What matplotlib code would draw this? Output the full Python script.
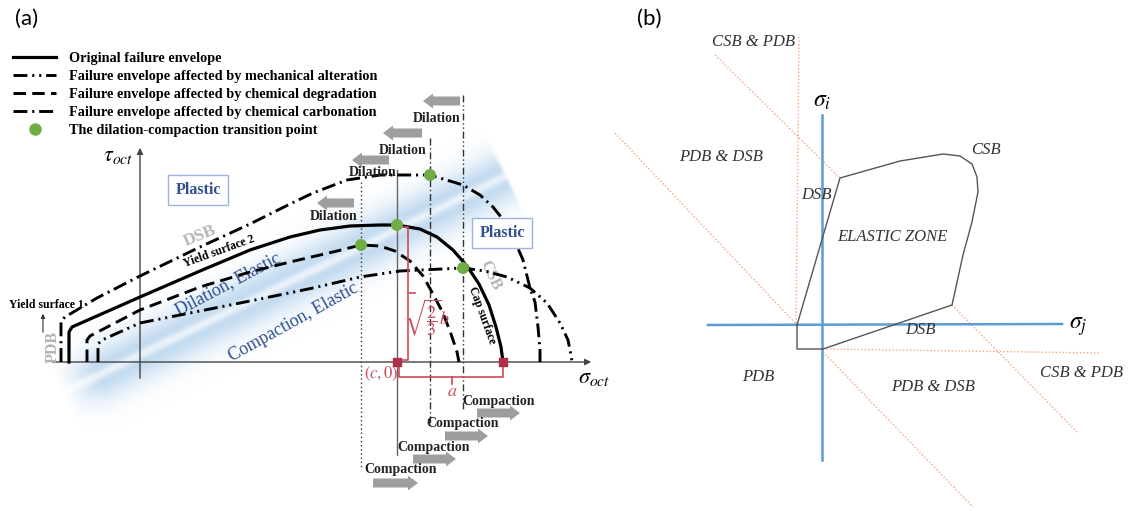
import numpy as np
import matplotlib.pyplot as plt
from matplotlib.patches import FancyArrow
from matplotlib.lines import Line2D
from matplotlib.colors import to_rgb

plt.rcParams['mathtext.fontset'] = 'stix'
plt.rcParams['lines.scale_dashes'] = False

# ---- panel (a): failure envelopes in the tau_oct / sigma_oct plane (y grows downward) ----
orig_x = [69, 69, 72, 140, 200, 250, 290, 320, 350, 380, 397, 420, 437, 453, 467, 479, 489, 496, 501, 503]
orig_y = [362, 332, 327, 297, 271, 250, 237, 230, 226, 225, 225, 229, 237, 250, 266, 284, 305, 327, 347, 362]

degr_x = [87, 87, 90, 140, 200, 250, 290, 337, 361, 380, 395, 410, 423, 433, 443, 451, 457, 459]
degr_y = [362, 340, 336, 310, 287, 272, 262, 251, 245, 246, 251, 261, 276, 294, 313, 334, 352, 362]

carb_x = [61, 61, 65, 97, 140, 200, 250, 290, 313, 347, 380, 430, 463, 480, 493, 505, 513, 523, 530, 535, 538, 540, 540]
carb_y = [362, 321, 317, 298, 276, 247, 224, 204, 193, 180, 175, 175, 185, 195, 207, 222, 237, 260, 288, 302, 327, 350, 362]

mech_x = [98, 98, 102, 140, 200, 260, 313, 360, 400, 463, 485, 507, 530, 547, 560, 568, 571, 572]
mech_y = [362, 344, 340, 323, 311, 299, 288, 277, 271, 268, 271, 277, 288, 303, 323, 340, 355, 362]

# dilation-compaction transition points
trans_x = [397, 361, 430, 463]
trans_y = [225, 245, 175, 268]

# vertical guides through the transition points: x, top, bottom
guide_x = [361, 397, 430, 463]
guide_top = [182, 170, 138, 95]
guide_bot = [467, 455, 423, 410]

# dilation arrows (pointing left) and compaction arrows (pointing right)
dil_tail = [460, 422, 389, 354]
dil_head = [423, 383, 352, 317]
dil_y = [101, 133, 160, 203]
dil_lab_x = [437, 403, 373, 334]
dil_lab_y = [118, 150, 172, 217]

comp_tail = [477, 445, 413, 373]
comp_head = [520, 488, 456, 418]
comp_y = [413, 436, 459, 483]
comp_lab_x = [499, 463, 434, 401]
comp_lab_y = [401, 423, 447, 470]

# cap geometry: (c,0) and the end of the original cap
cap_c = (397, 362)
cap_end = (503, 362)
cap_top = 227

# ---- panel (b): elastic zone in the sigma_j / sigma_i plane ----
zone_x = [797, 840, 900, 943, 960, 972, 977, 978, 972, 963, 952, 823, 797, 797]
zone_y = [325, 178, 161, 154, 156, 164, 177, 192, 222, 255, 305, 349, 349, 325]

bound_x0 = [799, 715, 615, 823, 823, 952]
bound_y0 = [37, 55, 133, 349, 352, 305]
bound_x1 = [796, 840, 797, 1100, 973, 1077]
bound_y1 = [325, 178, 325, 353, 507, 432]

region_text = ["CSB & PDB", "PDB & DSB", "CSB", "DSB", "ELASTIC ZONE", "DSB", "PDB", "PDB & DSB", "CSB & PDB"]
region_x = [753, 721, 986, 816, 892, 920, 758, 933, 1081]
region_y = [42, 157, 150, 195, 237, 330, 377, 387, 373]

SERIF = 'Liberation Serif'
BLUE_TXT = '#2f4f8f'
RED = '#cc4a5a'
ARROW_GREY = '#9e9e9e'


def draw_band(ax):
    # soft blue stripe behind the envelopes with a pale centre line
    x0, y0, x1, y1 = 62, 393, 508, 175
    length = np.hypot(x1 - x0, y1 - y0)
    ux, uy = (x1 - x0) / length, (y1 - y0) / length
    gx, gy = np.meshgrid(np.arange(620) + 0.5, np.arange(511) + 0.5)
    t = (gx - x0) * ux + (gy - y0) * uy
    d = -(gx - x0) * uy + (gy - y0) * ux
    alpha = 0.65 * np.exp(-(d / 25.0) ** 2) - 0.45 * np.exp(-(d / 5.0) ** 2)
    alpha *= np.clip(t / 40.0, 0, 1) * np.clip((length - t) / 5.0, 0, 1)
    rgba = np.zeros(gx.shape + (4,))
    rgba[..., :3] = to_rgb('#95bfe5')
    rgba[..., 3] = np.clip(alpha, 0, 1)
    ax.imshow(rgba, extent=(0, 620, 511, 0), zorder=0, interpolation='bilinear')


def panel_a(ax):
    draw_band(ax)

    # axes
    ax.annotate('', xy=(140, 145), xytext=(140, 381),
                arrowprops=dict(arrowstyle='-|>', lw=1.0, color='#444444', mutation_scale=9))
    ax.annotate('', xy=(594, 362), xytext=(50, 362),
                arrowprops=dict(arrowstyle='-|>', lw=1.0, color='#444444', mutation_scale=9))
    ax.text(118, 156, r'$\tau_{oct}$', fontsize=16, ha='center', va='center')
    ax.text(594, 378, r'$\sigma_{oct}$', fontsize=16, ha='center', va='center')

    # vertical guides
    styles = [(0, (1, 2)), '-', (0, (5, 2, 1, 2)), (0, (5, 2, 1, 2, 1, 2))]
    colors = ['#333333', '#666666', '#333333', '#333333']
    for gx, top, bot, ls, c in zip(guide_x, guide_top, guide_bot, styles, colors):
        ax.plot([gx, gx], [top, bot], ls=ls, color=c, lw=1.0, zorder=2)

    # envelopes
    ax.plot(orig_x, orig_y, color='black', lw=2.3, zorder=4,
            label='Original failure envelope')
    ax.plot(mech_x, mech_y, color='black', lw=2.1, dashes=(10, 3.5, 1.5, 3.5, 1.5, 3.5), zorder=4,
            label='Failure envelope affected by mechanical alteration')
    ax.plot(degr_x, degr_y, color='black', lw=2.1, dashes=(9, 4.5), zorder=4,
            label='Failure envelope affected by chemical degradation')
    ax.plot(carb_x, carb_y, color='black', lw=2.1, dashes=(10, 3.5, 1.5, 3.5), zorder=4,
            label='Failure envelope affected by chemical carbonation')
    ax.scatter(trans_x, trans_y, s=75, color='#70ad47', zorder=6, edgecolors='none')

    handles, labels = ax.get_legend_handles_labels()
    handles.append(Line2D([], [], marker='o', ls='none', color='#70ad47', ms=8))
    labels.append('The dilation-compaction transition point')
    ax.legend(handles, labels, loc='upper left', bbox_to_anchor=(6 / 1130, 1 - 45 / 511),
              frameon=False, borderpad=0, handlelength=3.0, handletextpad=0.9,
              labelspacing=0.35, prop=dict(family=SERIF, weight='bold', size=10.3))

    # arrows
    for t, h, y in zip(dil_tail, dil_head, dil_y):
        ax.add_patch(FancyArrow(t, y, h - t, 0, width=9, head_width=15, head_length=10,
                                length_includes_head=True, color=ARROW_GREY, lw=0, zorder=5))
    for t, h, y in zip(comp_tail, comp_head, comp_y):
        ax.add_patch(FancyArrow(t, y, h - t, 0, width=9, head_width=15, head_length=10,
                                length_includes_head=True, color=ARROW_GREY, lw=0, zorder=5))
    for x, y in zip(dil_lab_x, dil_lab_y):
        ax.text(x, y, 'Dilation', family=SERIF, weight='bold', fontsize=10,
                color='#222222', ha='center', va='center', zorder=6)
    for x, y in zip(comp_lab_x, comp_lab_y):
        ax.text(x, y, 'Compaction', family=SERIF, weight='bold', fontsize=10,
                color='#222222', ha='center', va='center', zorder=6)

    # zone labels
    box = dict(boxstyle='square,pad=0.45', fc='white', ec='#9db5dc', lw=1.0)
    ax.text(198, 190, 'Plastic', family=SERIF, weight='bold', fontsize=11.5,
            color=BLUE_TXT, ha='center', va='center', bbox=box, zorder=6)
    ax.text(502, 233, 'Plastic', family=SERIF, weight='bold', fontsize=11.5,
            color=BLUE_TXT, ha='center', va='center', bbox=box, zorder=6)
    ax.text(228, 284, 'Dilation, Elastic', family=SERIF, fontsize=13, color=BLUE_TXT,
            rotation=28, ha='center', va='center', rotation_mode='anchor', zorder=3)
    ax.text(294, 322, 'Compaction, Elastic', family=SERIF, fontsize=13, color=BLUE_TXT,
            rotation=29, ha='center', va='center', rotation_mode='anchor', zorder=3)
    ax.text(200, 236, 'DSB', family=SERIF, weight='bold', fontsize=12.5, color='#b4b4b4',
            rotation=22, ha='center', va='center', rotation_mode='anchor', zorder=3)
    ax.text(490, 275, 'CSB', family=SERIF, weight='bold', fontsize=11.5, color='#b4b4b4',
            rotation=-65, ha='center', va='center', rotation_mode='anchor', zorder=3)
    ax.text(53, 347, 'PDB', family=SERIF, weight='bold', fontsize=11.5, color='#b4b4b4',
            rotation=90, ha='center', va='center', rotation_mode='anchor', zorder=3)
    ax.text(219, 251, 'Yield surface 2', family=SERIF, weight='bold', fontsize=8.5,
            rotation=20, ha='center', va='center', rotation_mode='anchor', zorder=6)
    ax.text(46, 305, 'Yield surface 1', family=SERIF, weight='bold', fontsize=8.5,
            ha='center', va='center', zorder=6)
    ax.annotate('', xy=(43, 311), xytext=(43, 335),
                arrowprops=dict(arrowstyle='-|>', lw=0.8, color='#333333', mutation_scale=6))
    ax.text(482, 315, 'Cap surface', family=SERIF, weight='bold', fontsize=8.5,
            rotation=-70, ha='center', va='center', rotation_mode='anchor', zorder=6)

    # cap dimensions (red)
    cx, cy = cap_c
    ex, ey = cap_end
    ax.plot([403, 408, 408, 403], [cap_top, cap_top, cy - 2, cy - 2], color=RED, lw=1.2, zorder=5)
    ax.plot([408, 415], [293, 293], color=RED, lw=1.2, zorder=5)
    ax.text(427, 318, r'$\sqrt{\dfrac{2}{3}}b$', color=RED, fontsize=13, ha='center', va='center', zorder=6)
    ax.plot([cx + 2, cx + 2, ex, ex], [cy + 4, cy + 15, cy + 15, cy + 4], color=RED, lw=1.2, zorder=5)
    ax.plot([452, 452], [cy + 15, cy + 22], color=RED, lw=1.2, zorder=5)
    ax.text(452, 391, r'$a$', color=RED, fontsize=13, ha='center', va='center', zorder=6)
    ax.text(381, 374, r'$(c,0)$', color=RED, fontsize=12, ha='center', va='center', zorder=6)
    ax.scatter([cx, ex], [cy, ey], marker='s', s=30, color='#b0304a', zorder=7)

    ax.text(27, 19, '(a)', family='Lato', fontsize=16, ha='center', va='center')


def panel_b(ax):
    for x0, y0, x1, y1 in zip(bound_x0, bound_y0, bound_x1, bound_y1):
        ax.plot([x0, x1], [y0, y1], color='#f4a582', lw=1.0, ls=(0, (1, 1.5)), zorder=1)
    ax.plot([822, 822], [115, 460], color='#5b9bd5', lw=1.8, zorder=2)
    ax.plot([708, 1062], [325, 324], color='#5b9bd5', lw=1.8, zorder=2)
    ax.plot(zone_x, zone_y, color='#555555', lw=1.0, zorder=3)
    ax.text(822, 100, r'$\sigma_i$', fontsize=17, ha='center', va='center')
    ax.text(1078, 326, r'$\sigma_j$', fontsize=17, ha='center', va='center')
    for txt, x, y in zip(region_text, region_x, region_y):
        ax.text(x, y, txt, family=SERIF, style='italic', fontsize=12, color='#333333',
                ha='center', va='center', zorder=4)
    ax.text(649, 19, '(b)', family='Lato', fontsize=16, ha='center', va='center')


def main():
    fig = plt.figure(figsize=(11.3, 5.11), dpi=100)
    ax = fig.add_axes([0, 0, 1, 1])
    panel_a(ax)
    panel_b(ax)
    ax.set_xlim(0, 1130)
    ax.set_ylim(511, 0)
    ax.set_aspect('auto')
    ax.axis('off')
    fig.savefig('out.png', dpi=100)


if __name__ == "__main__":
    main()
